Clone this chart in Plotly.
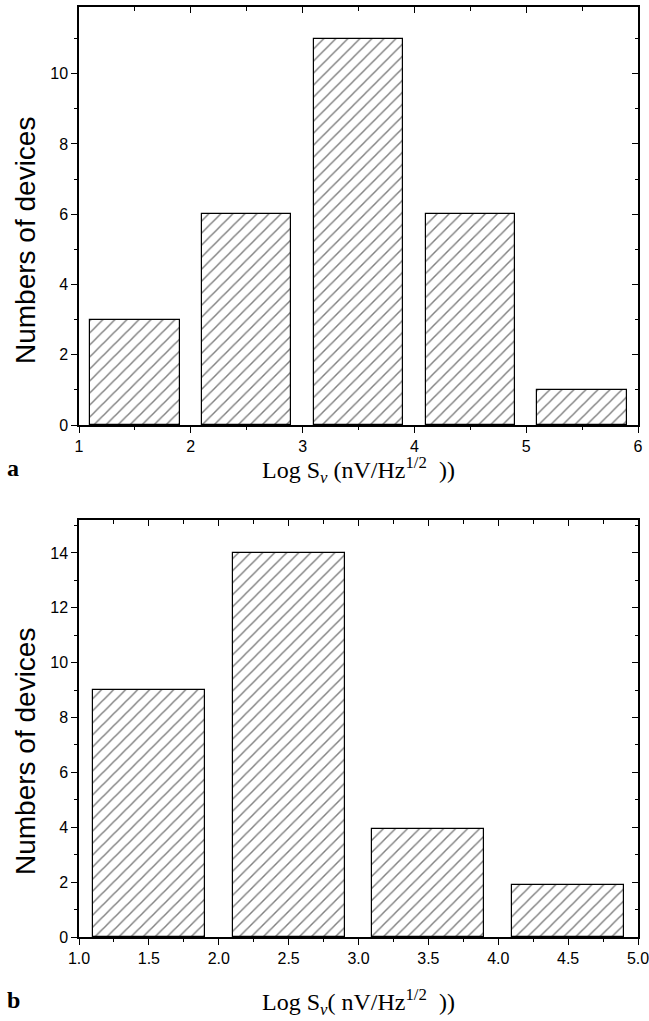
import plotly.graph_objects as go

# Panel a data
a_centers = [1.5, 2.5, 3.5, 4.5, 5.5]
a_counts = [3, 6, 11, 6, 1]
a_ticks = [1, 2, 3, 4, 5, 6]

# Panel b data
b_centers = [1.5, 2.5, 3.5, 4.5]
b_counts = [9, 14, 3.95, 1.9]
b_ticks = [1.0, 1.5, 2.0, 2.5, 3.0, 3.5, 4.0, 4.5, 5.0]

W, H = 649, 1021
x0, x1 = 79 / W, 638 / W
ya = [1 - 425 / H, 1 - 7 / H]
yb = [1 - 937 / H, 1 - 520 / H]

bar_style = dict(
    width=0.8,
    marker=dict(color="white", line=dict(color="black", width=1.2),
                pattern=dict(shape="/", fgcolor="black", bgcolor="white",
                             size=8.5, solidity=0.17)),
    showlegend=False, hoverinfo="skip",
)

fig = go.Figure()
fig.add_trace(go.Bar(x=a_centers, y=a_counts, xaxis="x", yaxis="y", **bar_style))
fig.add_trace(go.Bar(x=b_centers, y=b_counts, xaxis="x2", yaxis="y2", **bar_style))
# dummy traces so the inward-tick mirror axes are drawn
fig.add_trace(go.Scatter(x=[None], y=[None], xaxis="x3", yaxis="y3", showlegend=False))
fig.add_trace(go.Scatter(x=[None], y=[None], xaxis="x4", yaxis="y4", showlegend=False))

tickfont = dict(family="Arial, Liberation Sans", size=16, color="black")
common = dict(showgrid=False, zeroline=False, linecolor="black", linewidth=1.5,
              tickcolor="black", tickwidth=1.3, tickfont=tickfont, automargin=False)

def main_x(domain, anchor, rng, tickvals, ticktext, mdtick):
    return dict(domain=domain, anchor=anchor, range=rng, tickmode="array",
                tickvals=tickvals, ticktext=ticktext, ticks="outside", ticklen=6,
                mirror=True, showline=True, ticklabeloverflow="allow",
                minor=dict(ticks="outside", ticklen=3.5, dtick=mdtick, tick0=1,
                           tickcolor="black", tickwidth=1.2), **common)

def main_y(domain, anchor, rng, dtick, mdtick):
    return dict(domain=domain, anchor=anchor, range=rng, tick0=0, dtick=dtick,
                ticks="outside", ticklen=6, mirror=True, showline=True,
                minor=dict(ticks="outside", ticklen=3.5, dtick=mdtick, tick0=0,
                           tickcolor="black", tickwidth=1.2), **common)

def mirror_x(over, anchor, rng, dtick, mdtick):
    return dict(overlaying=over, anchor=anchor, side="top", range=rng, tick0=1, dtick=dtick,
                ticks="inside", ticklen=6, showticklabels=False, showline=False,
                minor=dict(ticks="inside", ticklen=3.5, dtick=mdtick, tick0=1,
                           tickcolor="black", tickwidth=1.2), **common)

def mirror_y(over, anchor, rng, dtick, mdtick):
    return dict(overlaying=over, anchor=anchor, side="right", range=rng, tick0=0, dtick=dtick,
                ticks="inside", ticklen=6, showticklabels=False, showline=False,
                minor=dict(ticks="inside", ticklen=3.5, dtick=mdtick, tick0=0,
                           tickcolor="black", tickwidth=1.2), **common)

fig.update_layout(
    width=W, height=H,
    margin=dict(l=0, r=0, t=0, b=0, autoexpand=False),
    paper_bgcolor="white", plot_bgcolor="white",
    bargap=0,
    xaxis=main_x([x0, x1], "y", [1, 6], a_ticks, [str(t) for t in a_ticks], 0.5),
    yaxis=main_y(ya, "x", [0, 11.9], 2, 1),
    xaxis2=main_x([x0, x1], "y2", [1, 5], b_ticks, [f"{t:.1f}" for t in b_ticks], 0.25),
    yaxis2=main_y(yb, "x2", [0, 15.2], 2, 1),
    xaxis3=mirror_x("x", "y", [1, 6], 1, 0.5),
    yaxis3=mirror_y("y", "x", [0, 11.9], 2, 1),
    xaxis4=mirror_x("x2", "y2", [1, 5], 0.5, 0.25),
    yaxis4=mirror_y("y2", "x2", [0, 15.2], 2, 1),
)

serif = "Times New Roman, Liberation Serif, serif"
xtitle_a = "Log S<sub><i>v</i></sub> (nV/Hz<sup>1/2</sup>  ))"
xtitle_b = "Log S<sub><i>v</i></sub>( nV/Hz<sup>1/2</sup>  ))"
ytitle = "Numbers of devices"

for txt, yy in [(xtitle_a, 470), (xtitle_b, 1002)]:
    fig.add_annotation(xref="paper", yref="paper", x=358 / W, y=1 - yy / H, text=txt,
                       showarrow=False, xanchor="center", yanchor="middle",
                       font=dict(family=serif, size=24, color="black"))
for lbl, yy in [("a", 468), ("b", 1000)]:
    fig.add_annotation(xref="paper", yref="paper", x=13 / W, y=1 - yy / H, text=f"<b>{lbl}</b>",
                       showarrow=False, xanchor="center", yanchor="middle",
                       font=dict(family=serif, size=24, color="black"))
for yy in [241, 752]:
    fig.add_annotation(xref="paper", yref="paper", x=25 / W, y=1 - yy / H, text=ytitle,
                       textangle=-90, showarrow=False, xanchor="center", yanchor="middle",
                       font=dict(family="Arial, Liberation Sans", size=28, color="black"))

page_fix = ("document.body.style.margin='0';"
            "document.body.style.overflow='hidden';"
            "document.documentElement.style.overflow='hidden';")
fig.write_html("out.html", post_script=page_fix, config={"displayModeBar": False})
